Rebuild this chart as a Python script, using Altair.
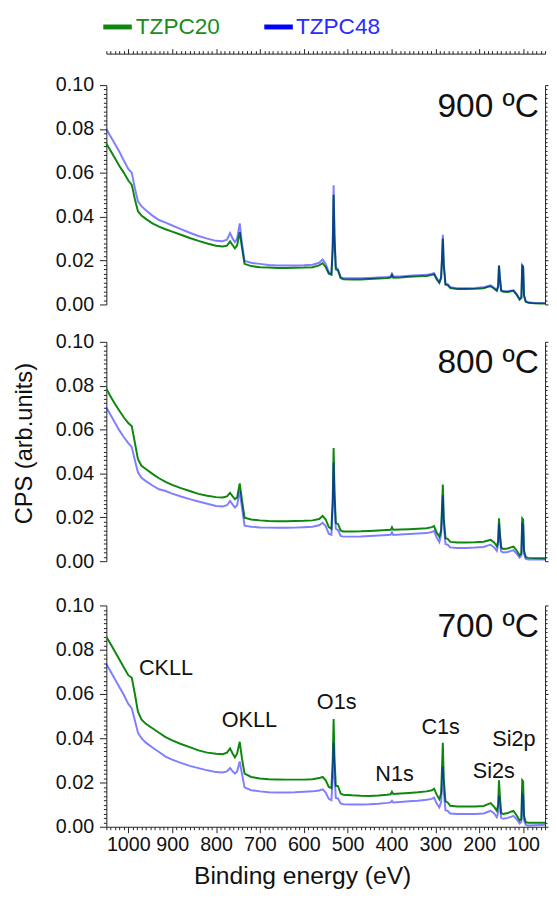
import altair as alt
import pandas as pd

FONT = "Liberation Sans"

# Binding energy grid (eV)
energy = [1050, 1040, 1030, 1020, 1010, 1000, 992, 985, 978, 970,
          960, 945, 930, 915, 900, 880, 860, 840, 820, 800,
          785, 775, 768, 762, 757, 752, 746, 741, 735, 720,
          700, 680, 660, 640, 620, 600, 580, 565, 557, 550,
          543, 537, 534, 532, 530, 527, 522, 516, 510, 490,
          470, 450, 430, 410, 402, 399, 396, 380, 360, 340,
          320, 308, 303, 297, 291, 287, 285, 283, 281, 277,
          272, 266, 250, 230, 210, 190, 180, 174, 166, 160,
          157, 155, 153, 150, 145, 135, 128, 122, 115, 108,
          104, 102, 100, 98, 94, 88, 75, 60, 50]

g900 = [0.0734, 0.0700, 0.0665, 0.0630, 0.0600, 0.0565, 0.0545, 0.0480, 0.0425, 0.0405,
        0.0390, 0.0370, 0.0355, 0.0343, 0.0332, 0.0318, 0.0303, 0.0290, 0.0278, 0.0268,
        0.0264, 0.0268, 0.0287, 0.0270, 0.0256, 0.0270, 0.0330, 0.0260, 0.0185, 0.0175,
        0.0170, 0.0168, 0.0166, 0.0166, 0.0167, 0.0168, 0.0170, 0.0178, 0.0188, 0.0170,
        0.0140, 0.0135, 0.0250, 0.0500, 0.0300, 0.0160, 0.0155, 0.0120, 0.0115, 0.0114,
        0.0114, 0.0116, 0.0118, 0.0120, 0.0122, 0.0135, 0.0122, 0.0123, 0.0126, 0.0128,
        0.0130, 0.0135, 0.0138, 0.0115, 0.0098, 0.0120, 0.0200, 0.0300, 0.0180, 0.0090,
        0.0088, 0.0075, 0.0070, 0.0070, 0.0071, 0.0074, 0.0080, 0.0083, 0.0072, 0.0062,
        0.0080, 0.0175, 0.0120, 0.0062, 0.0058, 0.0057, 0.0060, 0.0062, 0.0045, 0.0022,
        0.0030, 0.0175, 0.0170, 0.0040, 0.0012, 0.0008, 0.0005, 0.0004, 0.0004]

b900 = [0.0800, 0.0765, 0.0730, 0.0695, 0.0655, 0.0618, 0.0600, 0.0530, 0.0470, 0.0448,
        0.0430, 0.0405, 0.0385, 0.0373, 0.0360, 0.0343, 0.0327, 0.0312, 0.0300, 0.0290,
        0.0288, 0.0295, 0.0325, 0.0300, 0.0285, 0.0300, 0.0370, 0.0280, 0.0198, 0.0190,
        0.0185, 0.0180, 0.0178, 0.0178, 0.0178, 0.0179, 0.0181, 0.0190, 0.0205, 0.0185,
        0.0148, 0.0140, 0.0280, 0.0543, 0.0320, 0.0170, 0.0160, 0.0125, 0.0120, 0.0119,
        0.0119, 0.0121, 0.0123, 0.0125, 0.0127, 0.0140, 0.0127, 0.0128, 0.0131, 0.0133,
        0.0135, 0.0140, 0.0143, 0.0120, 0.0102, 0.0125, 0.0210, 0.0318, 0.0190, 0.0094,
        0.0092, 0.0079, 0.0074, 0.0074, 0.0075, 0.0078, 0.0084, 0.0087, 0.0076, 0.0066,
        0.0084, 0.0180, 0.0124, 0.0065, 0.0061, 0.0060, 0.0063, 0.0065, 0.0048, 0.0025,
        0.0033, 0.0180, 0.0175, 0.0043, 0.0014, 0.0010, 0.0007, 0.0006, 0.0006]

g800 = [0.0786, 0.0750, 0.0715, 0.0685, 0.0655, 0.0630, 0.0615, 0.0540, 0.0465, 0.0435,
        0.0420, 0.0398, 0.0378, 0.0362, 0.0348, 0.0333, 0.0320, 0.0307, 0.0298, 0.0292,
        0.0290, 0.0295, 0.0312, 0.0295, 0.0283, 0.0290, 0.0355, 0.0280, 0.0198, 0.0190,
        0.0186, 0.0183, 0.0182, 0.0182, 0.0183, 0.0184, 0.0186, 0.0192, 0.0206, 0.0190,
        0.0155, 0.0148, 0.0280, 0.0516, 0.0320, 0.0175, 0.0170, 0.0140, 0.0135, 0.0135,
        0.0136, 0.0138, 0.0140, 0.0142, 0.0143, 0.0155, 0.0143, 0.0144, 0.0146, 0.0148,
        0.0150, 0.0155, 0.0160, 0.0130, 0.0112, 0.0140, 0.0240, 0.0350, 0.0200, 0.0105,
        0.0102, 0.0088, 0.0085, 0.0085, 0.0086, 0.0089, 0.0094, 0.0097, 0.0085, 0.0068,
        0.0090, 0.0195, 0.0130, 0.0062, 0.0056, 0.0058, 0.0063, 0.0066, 0.0050, 0.0027,
        0.0035, 0.0195, 0.0190, 0.0050, 0.0018, 0.0015, 0.0014, 0.0013, 0.0013]

b800 = [0.0701, 0.0665, 0.0630, 0.0595, 0.0565, 0.0538, 0.0520, 0.0460, 0.0405, 0.0380,
        0.0365, 0.0345, 0.0328, 0.0320, 0.0308, 0.0295, 0.0283, 0.0272, 0.0262, 0.0252,
        0.0249, 0.0255, 0.0275, 0.0258, 0.0245, 0.0255, 0.0320, 0.0245, 0.0162, 0.0157,
        0.0154, 0.0153, 0.0152, 0.0152, 0.0153, 0.0155, 0.0157, 0.0164, 0.0175, 0.0160,
        0.0125, 0.0120, 0.0250, 0.0450, 0.0280, 0.0148, 0.0142, 0.0115, 0.0112, 0.0112,
        0.0113, 0.0115, 0.0117, 0.0119, 0.0120, 0.0132, 0.0120, 0.0122, 0.0124, 0.0126,
        0.0128, 0.0133, 0.0138, 0.0108, 0.0087, 0.0120, 0.0210, 0.0300, 0.0170, 0.0078,
        0.0075, 0.0063, 0.0060, 0.0060, 0.0062, 0.0065, 0.0072, 0.0075, 0.0063, 0.0047,
        0.0075, 0.0170, 0.0110, 0.0045, 0.0040, 0.0042, 0.0047, 0.0050, 0.0035, 0.0016,
        0.0025, 0.0170, 0.0165, 0.0035, 0.0010, 0.0008, 0.0008, 0.0008, 0.0008]

g700 = [0.0858, 0.0825, 0.0790, 0.0755, 0.0720, 0.0685, 0.0673, 0.0600, 0.0520, 0.0485,
        0.0465, 0.0445, 0.0425, 0.0405, 0.0390, 0.0374, 0.0360, 0.0345, 0.0335, 0.0330,
        0.0328, 0.0335, 0.0354, 0.0330, 0.0314, 0.0330, 0.0384, 0.0310, 0.0240, 0.0225,
        0.0218, 0.0215, 0.0214, 0.0213, 0.0213, 0.0213, 0.0215, 0.0220, 0.0225, 0.0210,
        0.0180, 0.0175, 0.0300, 0.0487, 0.0310, 0.0185, 0.0184, 0.0150, 0.0145, 0.0142,
        0.0140, 0.0139, 0.0141, 0.0145, 0.0147, 0.0158, 0.0148, 0.0150, 0.0153, 0.0156,
        0.0160, 0.0165, 0.0172, 0.0145, 0.0124, 0.0150, 0.0260, 0.0379, 0.0220, 0.0115,
        0.0110, 0.0095, 0.0092, 0.0092, 0.0092, 0.0094, 0.0102, 0.0107, 0.0090, 0.0072,
        0.0100, 0.0210, 0.0140, 0.0062, 0.0058, 0.0062, 0.0068, 0.0072, 0.0052, 0.0028,
        0.0035, 0.0210, 0.0205, 0.0050, 0.0020, 0.0018, 0.0018, 0.0018, 0.0018]

b700 = [0.0735, 0.0700, 0.0665, 0.0630, 0.0595, 0.0555, 0.0535, 0.0480, 0.0425, 0.0400,
        0.0380, 0.0358, 0.0338, 0.0317, 0.0303, 0.0289, 0.0275, 0.0265, 0.0255, 0.0247,
        0.0245, 0.0250, 0.0265, 0.0250, 0.0240, 0.0250, 0.0295, 0.0240, 0.0178, 0.0165,
        0.0160, 0.0156, 0.0155, 0.0155, 0.0156, 0.0158, 0.0160, 0.0164, 0.0169, 0.0155,
        0.0126, 0.0120, 0.0220, 0.0380, 0.0240, 0.0130, 0.0128, 0.0105, 0.0102, 0.0101,
        0.0101, 0.0102, 0.0104, 0.0108, 0.0110, 0.0117, 0.0110, 0.0112, 0.0115, 0.0118,
        0.0122, 0.0126, 0.0132, 0.0105, 0.0088, 0.0110, 0.0190, 0.0272, 0.0160, 0.0075,
        0.0072, 0.0060, 0.0058, 0.0058, 0.0058, 0.0060, 0.0068, 0.0072, 0.0060, 0.0043,
        0.0065, 0.0140, 0.0095, 0.0040, 0.0036, 0.0040, 0.0045, 0.0049, 0.0035, 0.0015,
        0.0022, 0.0147, 0.0140, 0.0030, 0.0008, 0.0006, 0.0007, 0.0008, 0.0009]

series_names = ["TZPC20", "TZPC48"]
series_colors = ["#0e870e", "#0000ff"]
legend_text_colors = ["#1a8c1a", "#2b2bff"]
# legend key placement, in the top panel's data coordinates (above its plot area)
legend_key_x = [1057, 690]
legend_key_x2 = [992, 625]
legend_text_x = [983, 618]
legend_y = [0.1265, 0.1265]

panel_names = ["900", "800", "700"]
temp_labels = ["900 ºC", "800 ºC", "700 ºC"]
temp_x = [64, 64, 64]
temp_y = [0.0900, 0.0905, 0.0900]

peak_labels = ["CKLL", "OKLL", "O1s", "N1s", "C1s", "Si2s", "Si2p"]
peak_x = [914, 724, 525, 393, 288, 167, 121]
peak_y = [0.0716, 0.0482, 0.0564, 0.0238, 0.0451, 0.0251, 0.0396]

# ---- tables ----
rows = []
for pname, gv, bv in zip(panel_names, [g900, g800, g700], [b900, b800, b700]):
    for e, a, b in zip(energy, gv, bv):
        rows.append({"panel": pname, "energy": e, "series": series_names[0], "cps": a})
        rows.append({"panel": pname, "energy": e, "series": series_names[1], "cps": b})
df = pd.DataFrame(rows)
temp_df = pd.DataFrame({"panel": panel_names, "label": temp_labels, "x": temp_x, "y": temp_y})
peak_df = pd.DataFrame({"label": peak_labels, "x": peak_x, "y": peak_y})
leg_df = pd.DataFrame({"series": series_names, "name": series_names, "x": legend_key_x,
                       "x2": legend_key_x2, "tx": legend_text_x, "y": legend_y})

PW = 446
HEIGHTS = {"900": 223, "800": 223, "700": 225}

x_ticks = list(range(50, 1051, 10))
y_ticks = [round(i * 0.002, 3) for i in range(51)]
MX = "datum.value % 100 === 0"
MY = "abs(datum.value * 50 - round(datum.value * 50)) < 0.000001"

xs = alt.Scale(domain=[50, 1050], reverse=True, nice=False, zero=False)
ys = alt.Scale(domain=[0, 0.1], nice=False, zero=False)
cs = alt.Scale(domain=series_names, range=series_colors)


def tick_cond(test, major, minor):
    return {"condition": {"test": test, "value": major}, "value": minor}


def x_axis(kind, h):
    if kind == "top":
        return alt.Axis(orient="top", offset=32, values=x_ticks, labels=False,
                        tickSize=tick_cond(MX, 5, 3), title=None, grid=False)
    if kind == "bottom":
        return alt.Axis(orient="bottom", values=x_ticks, format="d",
                        labelExpr=f"{MX} ? datum.label : ''", labelOverlap=False,
                        labelFlush=False, labelPadding=2, labelFontSize=20,
                        tickSize=tick_cond(MX, 6, 3), title="Binding energy (eV)",
                        titleX=199, titlePadding=10, titleFontSize=25, grid=False)
    return None


def left_axis(title):
    kw = dict(orient="left", values=y_ticks, format=".2f",
              labelExpr=f"{MY} ? datum.label : ''", labelOverlap=False,
              labelPadding=6, labelFontSize=20, tickSize=tick_cond(MY, 7, 3), grid=False)
    if title:
        kw.update(title=title, titleFontSize=24, titlePadding=19, titleY=103)
    else:
        kw.update(title=None)
    return alt.Axis(**kw)


right_axis = alt.Axis(orient="right", values=y_ticks, labels=False,
                      tickSize=tick_cond(MY, 3, 2), title=None, grid=False)


def panel(pname, kind, ytitle=None):
    h = HEIGHTS[pname]
    base = alt.Chart(df).transform_filter(alt.datum.panel == pname)
    color = alt.Color("series:N", scale=cs, legend=None)
    green = base.transform_filter(alt.datum.series == series_names[0]).mark_line(
        strokeWidth=2).encode(
        x=alt.X("energy:Q", scale=xs, axis=x_axis(kind, h)),
        y=alt.Y("cps:Q", scale=ys, axis=left_axis(ytitle)),
        color=color)
    blue = base.transform_filter(alt.datum.series == series_names[1]).mark_line(
        strokeWidth=2, opacity=0.5).encode(
        x=alt.X("energy:Q", scale=xs, axis=None),
        y=alt.Y("cps:Q", scale=ys, axis=right_axis),
        color=color)
    temp = alt.Chart(temp_df).transform_filter(alt.datum.panel == pname).mark_text(
        font=FONT, fontSize=34, align="right", baseline="middle", color="#111").encode(
        x=alt.X("x:Q", scale=xs, axis=None),
        y=alt.Y("y:Q", scale=ys, axis=None),
        text="label:N")
    layers = [green, blue, temp]
    if kind == "top":
        keys = alt.Chart(leg_df).mark_rule(strokeWidth=5).encode(
            x=alt.X("x:Q", scale=xs, axis=None), x2="x2:Q",
            y=alt.Y("y:Q", scale=ys, axis=None),
            color=alt.Color("series:N", scale=cs, legend=None))
        names = alt.Chart(leg_df).mark_text(
            font=FONT, fontSize=23, align="left", baseline="middle").encode(
            x=alt.X("tx:Q", scale=xs, axis=None),
            y=alt.Y("y:Q", scale=ys, axis=None),
            text="name:N",
            color=alt.Color("name:N", scale=alt.Scale(domain=series_names,
                                                      range=legend_text_colors), legend=None))
        layers += [keys, names]
    if kind == "bottom":
        ann = alt.Chart(peak_df).mark_text(
            font=FONT, fontSize=22, align="center", baseline="middle", color="#111").encode(
            x=alt.X("x:Q", scale=xs, axis=None),
            y=alt.Y("y:Q", scale=ys, axis=None),
            text="label:N")
        layers.append(ann)
    return alt.layer(*layers).resolve_axis(x="independent", y="independent").resolve_scale(
        color="independent").properties(width=PW, height=h)


top = panel("900", "top")
mid = panel("800", "mid", ytitle="CPS (arb.units)")
bot = panel("700", "bottom")

inner = alt.vconcat(top, mid, spacing=18).resolve_scale(color="independent")
chart = alt.vconcat(inner, bot, spacing=25).resolve_scale(color="independent")
chart = chart.properties(
    padding={"left": 5, "top": 0, "right": 0, "bottom": 0}
).configure_axis(
    labelFont=FONT, titleFont=FONT, labelFontSize=20, labelColor="#111",
    titleColor="#111", titleFontWeight="normal", domainColor="#222", tickColor="#222",
    domainWidth=1, tickWidth=1
).configure_view(stroke=None)

chart.save("out.html", embed_options={"renderer": "svg", "actions": False})
